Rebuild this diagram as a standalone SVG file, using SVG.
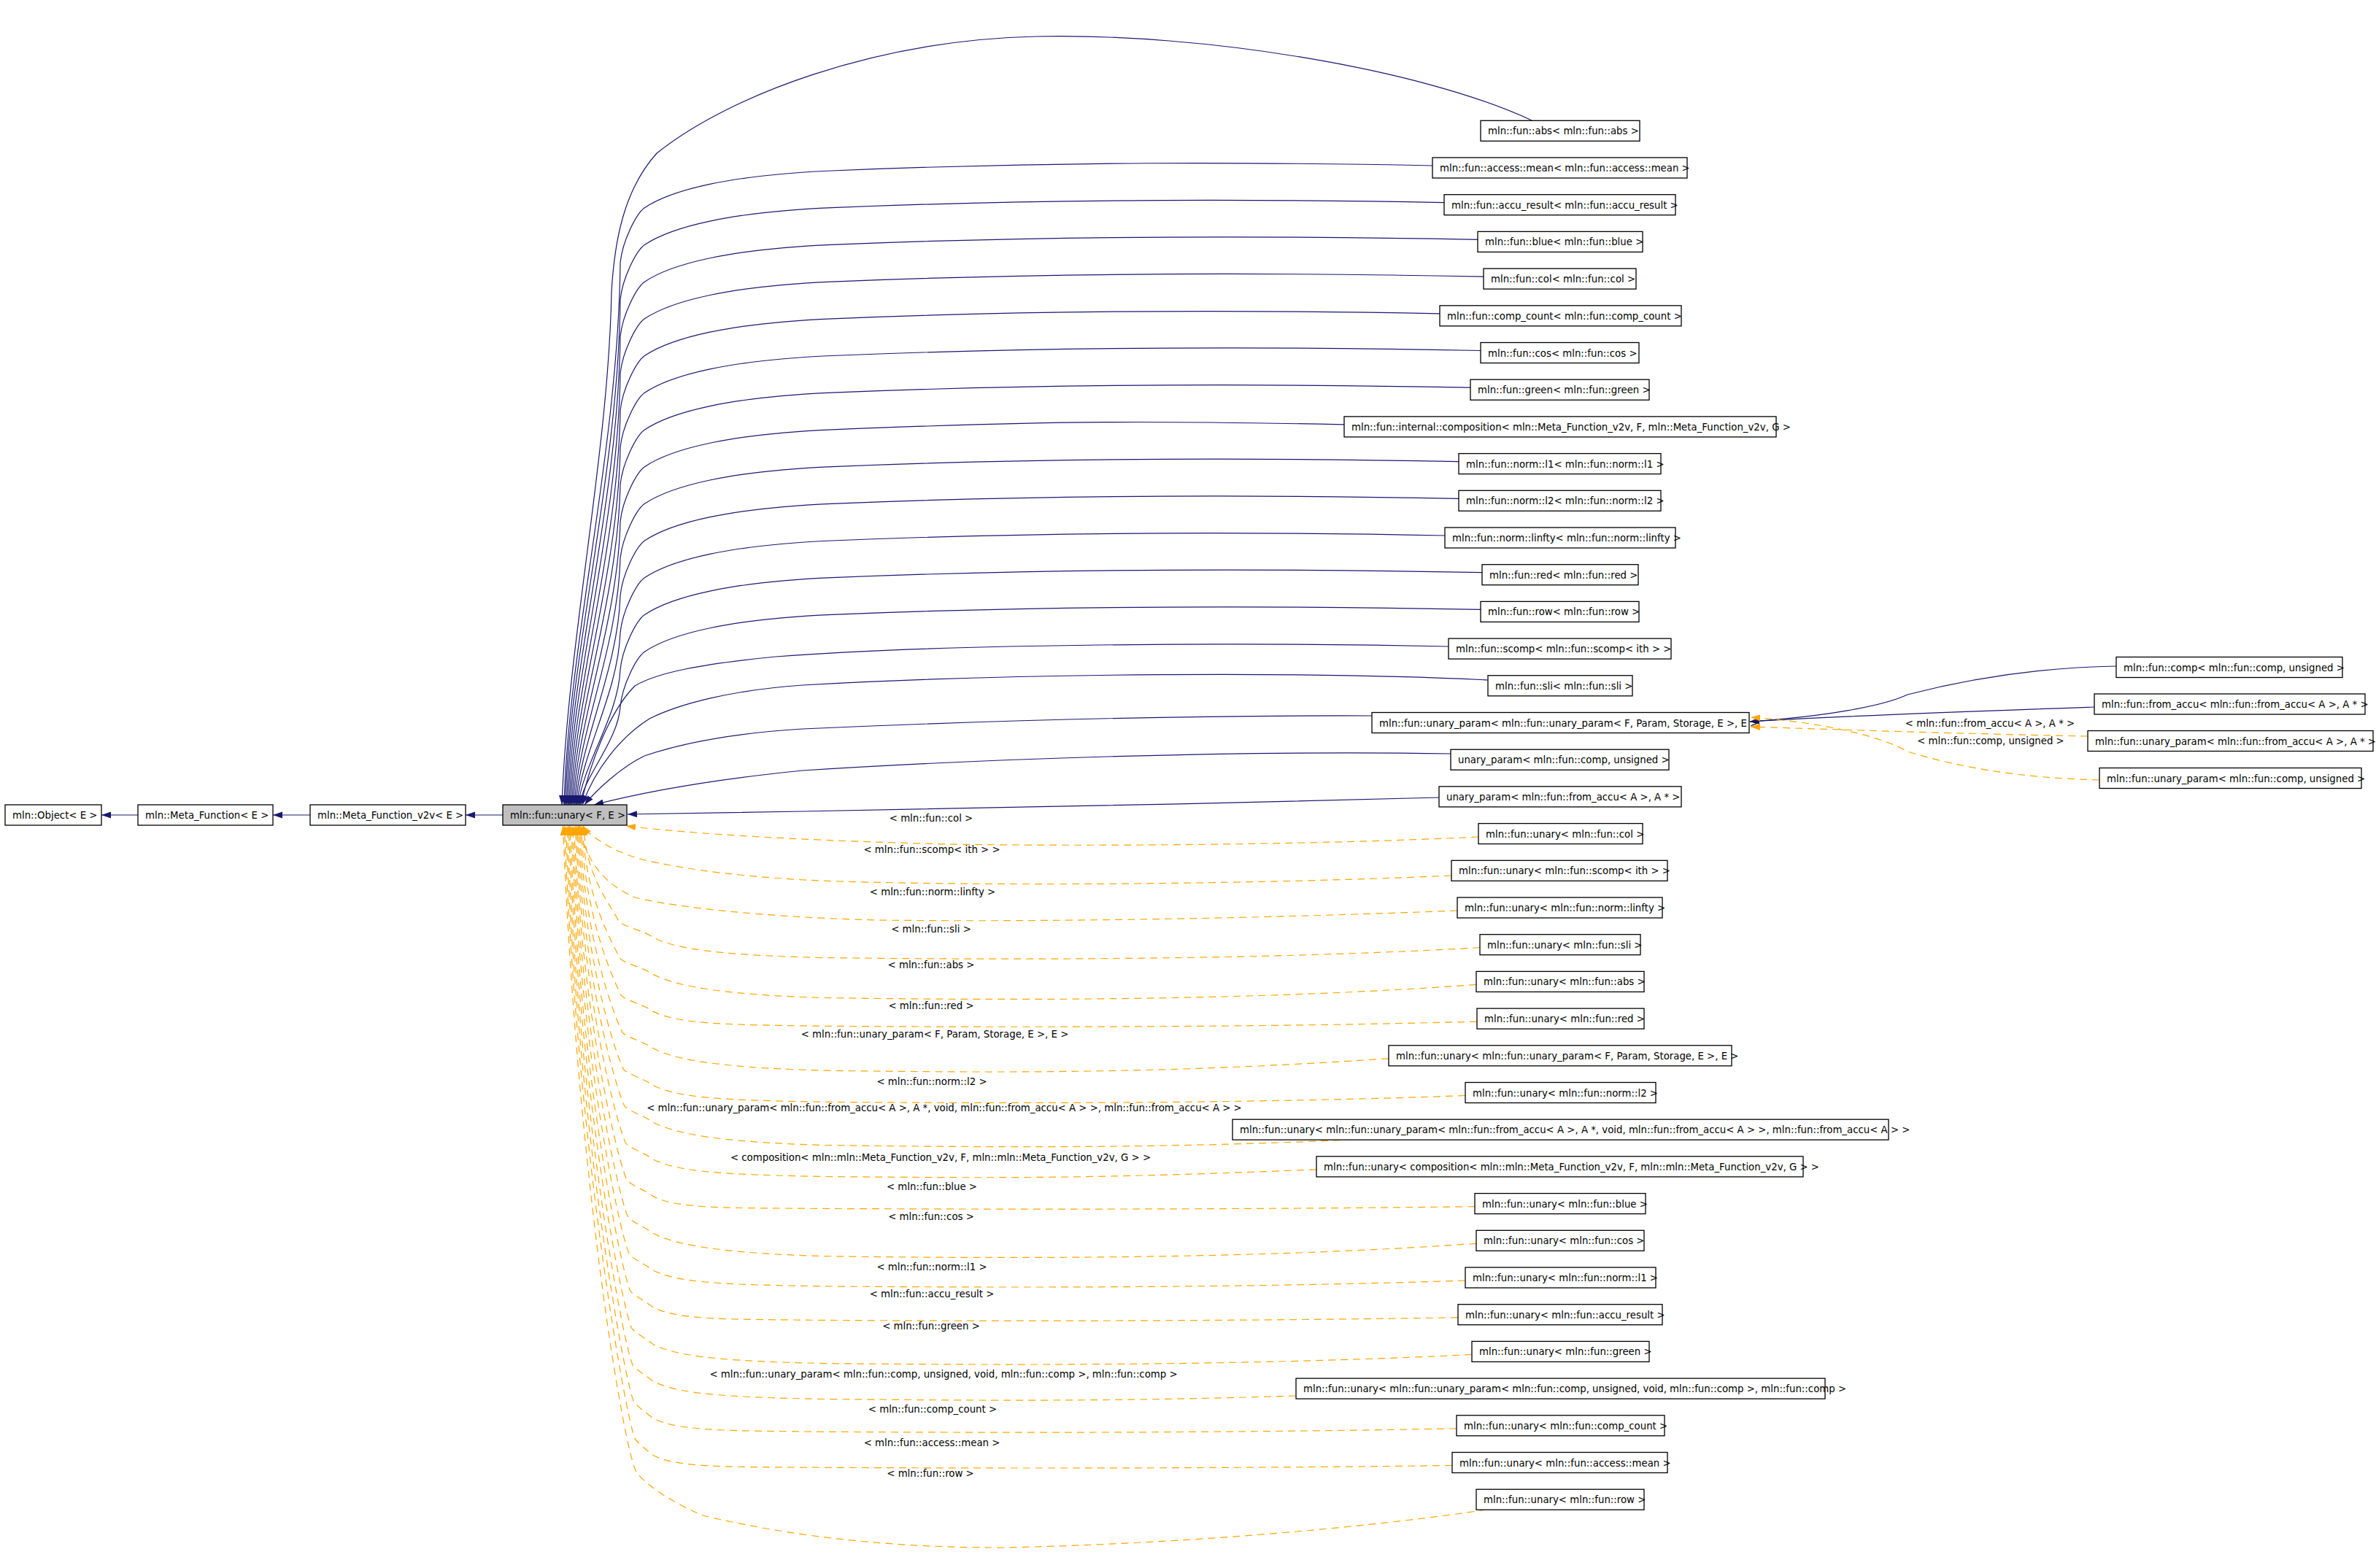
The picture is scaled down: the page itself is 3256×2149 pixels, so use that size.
<svg xmlns="http://www.w3.org/2000/svg" width="3256" height="2149" viewBox="0 0 3256 2149">
<style>
.n rect{fill:#fff;stroke:#000;stroke-width:1.3}
.n.g rect{fill:#bfbfbf}
text{font-family:"DejaVu Sans",sans-serif;font-size:13.3px;fill:#000}
.l{text-anchor:middle}
.e{fill:none;stroke:#191970;stroke-width:1.2;marker-end:url(#an)}
.t{fill:none;stroke:#ffa500;stroke-width:1.2;stroke-dasharray:10,7;marker-end:url(#ao)}
</style>
<defs>
<marker id="an" markerUnits="userSpaceOnUse" markerWidth="14" markerHeight="10" refX="13" refY="4.5" orient="auto"><path d="M0,0L13,4.5L0,9z" fill="#191970"/></marker>
<marker id="ao" markerUnits="userSpaceOnUse" markerWidth="14" markerHeight="10" refX="13" refY="4.5" orient="auto"><path d="M0,0L13,4.5L0,9z" fill="#ffa500"/></marker>
</defs>
<rect width="3256" height="2149" fill="#fff"/>
<g id="connectors">
<path class="e" d="M689,1117 L638,1117"/>
<path class="e" d="M425,1117 L374,1117"/>
<path class="e" d="M189,1117 L139,1117"/>
<path class="e" d="M2099,165 C1950,95 1650,45 1420,50 C1200,55 1000,130 900,210 C855,260 842,330 838,400 C834,620 778,880 770,1103"/>
<path class="e" d="M1963,227 C1713,222 1450,221 1140,234 C1000,240 920,260 883,285 C872,293 853,330 850,360 C847,620 779,880 773,1103"/>
<path class="e" d="M1979,277.7 C1729,272.7 1450,271.7 1140,284.7 C1000,290.7 920,310.7 883,335.7 C872,343.7 853,380.7 850,410.7 C847,653 780.6,895.3 774.6,1103"/>
<path class="e" d="M2025,328.4 C1775,323.4 1450,322.4 1140,335.4 C1000,341.4 920,361.4 883,386.4 C872,394.4 853,431.4 850,461.4 C847,686 782.4,910.5 776.4,1103"/>
<path class="e" d="M2033,379.1 C1783,374.1 1450,373.1 1140,386.1 C1000,392.1 920,412.1 883,437.1 C872,445.1 853,482.1 850,512.1 C847,718.9 784.2,925.7 778.2,1103"/>
<path class="e" d="M1973,429.8 C1723,424.8 1450,423.8 1140,436.8 C1000,442.8 920,462.8 883,487.8 C872,495.8 853,532.8 850,562.8 C847,751.9 786,940.9 780,1103"/>
<path class="e" d="M2029,480.5 C1779,475.5 1450,474.5 1140,487.5 C1000,493.5 920,513.5 883,538.5 C872,546.5 853,583.5 850,613.5 C847,784.8 787.8,956.1 781.8,1103"/>
<path class="e" d="M2015,531.2 C1765,526.2 1450,525.2 1140,538.2 C1000,544.2 920,564.2 883,589.2 C872,597.2 853,634.2 850,664.2 C847,817.8 789.6,971.4 783.6,1103"/>
<path class="e" d="M1842,581.9 C1592,576.9 1450,575.9 1140,588.9 C1000,594.9 920,614.9 883,639.9 C872,647.9 853,684.9 850,714.9 C847,850.7 791.4,986.6 785.4,1103"/>
<path class="e" d="M1999,632.6 C1749,627.6 1450,626.6 1140,639.6 C1000,645.6 920,665.6 883,690.6 C872,698.6 853,735.6 850,765.6 C847,883.7 793.2,1001.8 787.2,1103"/>
<path class="e" d="M1999,683.3 C1749,678.3 1450,677.3 1140,690.3 C1000,696.3 920,716.3 883,741.3 C872,749.3 853,786.3 850,816.3 C847,916.6 795,1017 789,1103"/>
<path class="e" d="M1980,734 C1730,729 1450,728 1140,741 C1000,747 920,767 883,792 C872,800 853,837 850,867 C847,949.6 796.8,1032.2 790.8,1103"/>
<path class="e" d="M2031,784.7 C1781,779.7 1450,778.7 1140,791.7 C1000,797.7 920,817.7 883,842.7 C872,850.7 853,887.7 850,917.7 C847,982.6 798.6,1047.4 792.6,1103"/>
<path class="e" d="M2029,835.4 C1779,830.4 1450,829.4 1140,842.4 C1000,848.4 920,868.4 883,893.4 C872,901.4 853,938.4 850,968.4 C847,1015.5 800.4,1062.6 794.4,1103"/>
<path class="e" d="M1985,886 C1700,880 1300,882 1063,900 C960,910 900,922 870,940 C845,965 815,1020 796,1103"/>
<path class="e" d="M2039,932 C1800,920 1400,922 1100,939 C1000,946 930,965 890,985 C850,1010 815,1055 798,1103"/>
<path class="e" d="M1880,981 C1600,980 1300,990 1100,999 C1000,1005 930,1020 883,1036 C850,1052 815,1085 801,1103"/>
<path class="e" d="M1988,1033 C1700,1028 1350,1040 1100,1056 C980,1068 880,1086 814,1103"/>
<path class="e" d="M1972,1093 C1700,1100 1300,1110 1100,1112 C1000,1113 920,1115 860,1116"/>
<path class="e" d="M2900,913 C2780,915 2680,935 2614,952 C2580,968 2500,982 2398,989"/>
<path class="e" d="M2870,969 C2700,975 2500,982 2398,989"/>
<path class="t" d="M2861,1009 C2700,1006 2520,1000 2399,996"/>
<path class="t" d="M2877,1069 C2760,1066 2680,1050 2614,1030 C2580,1010 2500,990 2399,983"/>
<path class="t" d="M2026,1147 C1800,1158 1500,1160 1300,1157 C1100,1152 950,1143 858,1132"/>
<path class="t" d="M1989,1200 C1700,1213 1350,1214 1150,1208 C1030,1204 940,1192 880,1178 C845,1168 815,1152 798,1132"/>
<path class="t" d="M1997,1248 C1750,1258 1450,1264 1200,1261 C1050,1257 930,1244 870,1230 C830,1212 805,1185 793,1132"/>
<path class="t" d="M2028,1298.7 C1728,1315.7 1400,1315.7 1130,1312.6 C1000,1309.4 930,1302.7 895,1284.7 C885,1276.7 854,1269.7 848,1262.7 C836,1238.7 802.7,1201.3 800,1132"/>
<path class="t" d="M2023,1349.4 C1723,1371.4 1400,1371.4 1130,1367.5 C1000,1363.6 930,1353.4 895,1335.4 C885,1327.4 855.6,1320.4 849.6,1313.4 C837.6,1289.4 801.9,1228.1 798.1,1132"/>
<path class="t" d="M2024,1400.1 C1724,1408.1 1400,1408.1 1130,1406.3 C1000,1404.5 930,1404.1 895,1386.1 C885,1378.1 857.2,1371.1 851.2,1364.1 C839.2,1340.1 801.1,1255 796.2,1132"/>
<path class="t" d="M1903,1450.8 C1603,1470.8 1400,1470.8 1130,1467.2 C1000,1463.6 930,1454.8 895,1436.8 C885,1428.8 858.8,1421.8 852.8,1414.8 C840.8,1390.8 800.2,1281.9 794.3,1132"/>
<path class="t" d="M2008,1501.5 C1708,1512.5 1400,1512.5 1130,1510.3 C1000,1508 930,1505.5 895,1487.5 C885,1479.5 860.4,1472.5 854.4,1465.5 C842.4,1441.5 799.4,1308.8 792.4,1132"/>
<path class="t" d="M1854,1562 C1600,1573.2 1400,1573.2 1130,1569.5 C1000,1565.7 930,1556.2 895,1538.2 C885,1530.2 862,1523.2 856,1516.2 C844,1492.2 798.6,1335.6 790.5,1132"/>
<path class="t" d="M1804,1602.9 C1504,1614.9 1400,1614.9 1130,1612.5 C1000,1610.1 930,1606.9 895,1588.9 C885,1580.9 863.6,1573.9 857.6,1566.9 C845.6,1542.9 797.7,1362.5 788.6,1132"/>
<path class="t" d="M2021,1653.6 C1721,1657.6 1400,1657.6 1130,1656.4 C1000,1655.2 930,1657.6 895,1639.6 C885,1631.6 865.2,1624.6 859.2,1617.6 C847.2,1593.6 796.9,1389.4 786.7,1132"/>
<path class="t" d="M2023,1704.3 C1723,1725.3 1400,1725.3 1130,1721.6 C1000,1717.8 930,1708.3 895,1690.3 C885,1682.3 866.8,1675.3 860.8,1668.3 C848.8,1644.3 796.1,1416.2 784.8,1132"/>
<path class="t" d="M2008,1755 C1708,1765 1400,1765 1130,1762.9 C1000,1760.8 930,1759 895,1741 C885,1733 868.4,1726 862.4,1719 C850.4,1695 795.2,1443.1 782.9,1132"/>
<path class="t" d="M1998,1805.7 C1698,1810.7 1400,1810.7 1130,1809.4 C1000,1808 930,1809.7 895,1791.7 C885,1783.7 870,1776.7 864,1769.7 C852,1745.7 794.4,1470 781,1132"/>
<path class="t" d="M2017,1856.4 C1717,1871.4 1400,1871.4 1130,1868.6 C1000,1865.7 930,1860.4 895,1842.4 C885,1834.4 871.6,1827.4 865.6,1820.4 C853.6,1796.4 793.6,1496.9 779.1,1132"/>
<path class="t" d="M1776,1913 C1550,1920.1 1400,1920.1 1130,1917.5 C1000,1915 930,1911.1 895,1893.1 C885,1885.1 873.2,1878.1 867.2,1871.1 C855.2,1847.1 792.7,1523.7 777.2,1132"/>
<path class="t" d="M1996,1957.8 C1696,1963.8 1400,1963.8 1130,1962.3 C1000,1960.8 930,1961.8 895,1943.8 C885,1935.8 874.8,1928.8 868.8,1921.8 C856.8,1897.8 791.9,1550.6 775.3,1132"/>
<path class="t" d="M1990,2008.5 C1690,2012.5 1400,2012.5 1130,2011.3 C1000,2010.1 930,2012.5 895,1994.5 C885,1986.5 876.4,1979.5 870.4,1972.5 C858.4,1948.5 791.1,1577.5 773.4,1132"/>
<path class="t" d="M2037,2069 C1900,2090 1650,2115 1378,2121 C1200,2122 1059,2100 963,2077 C930,2063 890,2040 873,2019 C855,1995 790,1600 771.5,1132"/>
</g>
<g id="edge-labels">
<text class="l" x="2727" y="996">&lt; mln::fun::from_accu&lt; A &gt;, A * &gt;</text>
<text class="l" x="2728" y="1020">&lt; mln::fun::comp, unsigned &gt;</text>
<text class="l" x="1276" y="1126">&lt; mln::fun::col &gt;</text>
<text class="l" x="1277" y="1169">&lt; mln::fun::scomp&lt; ith &gt; &gt;</text>
<text class="l" x="1278" y="1227">&lt; mln::fun::norm::linfty &gt;</text>
<text class="l" x="1276" y="1278">&lt; mln::fun::sli &gt;</text>
<text class="l" x="1276" y="1327">&lt; mln::fun::abs &gt;</text>
<text class="l" x="1276" y="1383">&lt; mln::fun::red &gt;</text>
<text class="l" x="1281" y="1422">&lt; mln::fun::unary_param&lt; F, Param, Storage, E &gt;, E &gt;</text>
<text class="l" x="1277" y="1487">&lt; mln::fun::norm::l2 &gt;</text>
<text class="l" x="1294" y="1523">&lt; mln::fun::unary_param&lt; mln::fun::from_accu&lt; A &gt;, A *, void, mln::fun::from_accu&lt; A &gt; &gt;, mln::fun::from_accu&lt; A &gt; &gt;</text>
<text class="l" x="1289" y="1591">&lt; composition&lt; mln::mln::Meta_Function_v2v, F, mln::mln::Meta_Function_v2v, G &gt; &gt;</text>
<text class="l" x="1277" y="1630.6">&lt; mln::fun::blue &gt;</text>
<text class="l" x="1276" y="1671.6">&lt; mln::fun::cos &gt;</text>
<text class="l" x="1277" y="1741.2">&lt; mln::fun::norm::l1 &gt;</text>
<text class="l" x="1277" y="1777.5">&lt; mln::fun::accu_result &gt;</text>
<text class="l" x="1276" y="1822.4">&lt; mln::fun::green &gt;</text>
<text class="l" x="1293" y="1888">&lt; mln::fun::unary_param&lt; mln::fun::comp, unsigned, void, mln::fun::comp &gt;, mln::fun::comp &gt;</text>
<text class="l" x="1278" y="1935.5">&lt; mln::fun::comp_count &gt;</text>
<text class="l" x="1277" y="1981.8">&lt; mln::fun::access::mean &gt;</text>
<text class="l" x="1275" y="2023.5">&lt; mln::fun::row &gt;</text>
</g>
<g id="n-object" class="n"><rect x="7" y="1103" width="132" height="28"/><text x="17" y="1122">mln::Object&lt; E &gt;</text></g>
<g id="n-meta-function" class="n"><rect x="189" y="1103" width="185" height="28"/><text x="199" y="1122">mln::Meta_Function&lt; E &gt;</text></g>
<g id="n-meta-function-v2v" class="n"><rect x="425" y="1103" width="213" height="28"/><text x="435" y="1122">mln::Meta_Function_v2v&lt; E &gt;</text></g>
<g id="n-unary" class="n g"><rect x="689" y="1103" width="170" height="28"/><text x="699" y="1122">mln::fun::unary&lt; F, E &gt;</text></g>
<g id="n-abs" class="n"><rect x="2029" y="165.3" width="218" height="28"/><text x="2039" y="184.3">mln::fun::abs&lt; mln::fun::abs &gt;</text></g>
<g id="n-access-mean" class="n"><rect x="1963" y="216" width="349" height="28"/><text x="1973" y="235">mln::fun::access::mean&lt; mln::fun::access::mean &gt;</text></g>
<g id="n-accu-result" class="n"><rect x="1979" y="266.7" width="317" height="28"/><text x="1989" y="285.7">mln::fun::accu_result&lt; mln::fun::accu_result &gt;</text></g>
<g id="n-blue" class="n"><rect x="2025" y="317.4" width="226" height="28"/><text x="2035" y="336.4">mln::fun::blue&lt; mln::fun::blue &gt;</text></g>
<g id="n-col" class="n"><rect x="2033" y="368.1" width="209" height="28"/><text x="2043" y="387.1">mln::fun::col&lt; mln::fun::col &gt;</text></g>
<g id="n-comp-count" class="n"><rect x="1973" y="418.8" width="331" height="28"/><text x="1983" y="437.8">mln::fun::comp_count&lt; mln::fun::comp_count &gt;</text></g>
<g id="n-cos" class="n"><rect x="2029" y="469.5" width="217" height="28"/><text x="2039" y="488.5">mln::fun::cos&lt; mln::fun::cos &gt;</text></g>
<g id="n-green" class="n"><rect x="2015" y="520.2" width="245" height="28"/><text x="2025" y="539.2">mln::fun::green&lt; mln::fun::green &gt;</text></g>
<g id="n-composition" class="n"><rect x="1842" y="570.9" width="592" height="28"/><text x="1852" y="589.9">mln::fun::internal::composition&lt; mln::Meta_Function_v2v, F, mln::Meta_Function_v2v, G &gt;</text></g>
<g id="n-l1" class="n"><rect x="1999" y="621.6" width="277" height="28"/><text x="2009" y="640.6">mln::fun::norm::l1&lt; mln::fun::norm::l1 &gt;</text></g>
<g id="n-l2" class="n"><rect x="1999" y="672.3" width="277" height="28"/><text x="2009" y="691.3">mln::fun::norm::l2&lt; mln::fun::norm::l2 &gt;</text></g>
<g id="n-linfty" class="n"><rect x="1980" y="723" width="316" height="28"/><text x="1990" y="742">mln::fun::norm::linfty&lt; mln::fun::norm::linfty &gt;</text></g>
<g id="n-red" class="n"><rect x="2031" y="773.7" width="214" height="28"/><text x="2041" y="792.7">mln::fun::red&lt; mln::fun::red &gt;</text></g>
<g id="n-row" class="n"><rect x="2029" y="824.4" width="217" height="28"/><text x="2039" y="843.4">mln::fun::row&lt; mln::fun::row &gt;</text></g>
<g id="n-scomp" class="n"><rect x="1985" y="875.1" width="305" height="28"/><text x="1995" y="894.1">mln::fun::scomp&lt; mln::fun::scomp&lt; ith &gt; &gt;</text></g>
<g id="n-sli" class="n"><rect x="2039" y="925.8" width="198" height="28"/><text x="2049" y="944.8">mln::fun::sli&lt; mln::fun::sli &gt;</text></g>
<g id="n-unary-param" class="n"><rect x="1880" y="976.5" width="517" height="28"/><text x="1890" y="995.5">mln::fun::unary_param&lt; mln::fun::unary_param&lt; F, Param, Storage, E &gt;, E &gt;</text></g>
<g id="n-up-comp" class="n"><rect x="1988" y="1027.2" width="299" height="28"/><text x="1998" y="1046.2">unary_param&lt; mln::fun::comp, unsigned &gt;</text></g>
<g id="n-up-from-accu" class="n"><rect x="1972" y="1077.9" width="332" height="28"/><text x="1982" y="1096.9">unary_param&lt; mln::fun::from_accu&lt; A &gt;, A * &gt;</text></g>
<g id="n-comp" class="n"><rect x="2900" y="900.5" width="310" height="28"/><text x="2910" y="919.5">mln::fun::comp&lt; mln::fun::comp, unsigned &gt;</text></g>
<g id="n-from-accu" class="n"><rect x="2870" y="951" width="371" height="28"/><text x="2880" y="970">mln::fun::from_accu&lt; mln::fun::from_accu&lt; A &gt;, A * &gt;</text></g>
<g id="n-fup-from-accu" class="n"><rect x="2861" y="1001.5" width="391" height="28"/><text x="2871" y="1020.5">mln::fun::unary_param&lt; mln::fun::from_accu&lt; A &gt;, A * &gt;</text></g>
<g id="n-fup-comp" class="n"><rect x="2877" y="1052.5" width="359" height="28"/><text x="2887" y="1071.5">mln::fun::unary_param&lt; mln::fun::comp, unsigned &gt;</text></g>
<g id="u-col" class="n"><rect x="2026" y="1128.6" width="225" height="28"/><text x="2036" y="1147.6">mln::fun::unary&lt; mln::fun::col &gt;</text></g>
<g id="u-scomp" class="n"><rect x="1989" y="1179.3" width="296" height="28"/><text x="1999" y="1198.3">mln::fun::unary&lt; mln::fun::scomp&lt; ith &gt; &gt;</text></g>
<g id="u-linfty" class="n"><rect x="1997" y="1230" width="281" height="28"/><text x="2007" y="1249">mln::fun::unary&lt; mln::fun::norm::linfty &gt;</text></g>
<g id="u-sli" class="n"><rect x="2028" y="1280.7" width="220" height="28"/><text x="2038" y="1299.7">mln::fun::unary&lt; mln::fun::sli &gt;</text></g>
<g id="u-abs" class="n"><rect x="2023" y="1331.4" width="230" height="28"/><text x="2033" y="1350.4">mln::fun::unary&lt; mln::fun::abs &gt;</text></g>
<g id="u-red" class="n"><rect x="2024" y="1382.1" width="229" height="28"/><text x="2034" y="1401.1">mln::fun::unary&lt; mln::fun::red &gt;</text></g>
<g id="u-unary-param" class="n"><rect x="1903" y="1432.8" width="470" height="28"/><text x="1913" y="1451.8">mln::fun::unary&lt; mln::fun::unary_param&lt; F, Param, Storage, E &gt;, E &gt;</text></g>
<g id="u-l2" class="n"><rect x="2008" y="1483.5" width="261" height="28"/><text x="2018" y="1502.5">mln::fun::unary&lt; mln::fun::norm::l2 &gt;</text></g>
<g id="u-up-from-accu" class="n"><rect x="1689" y="1534.2" width="899" height="28"/><text x="1699" y="1553.2">mln::fun::unary&lt; mln::fun::unary_param&lt; mln::fun::from_accu&lt; A &gt;, A *, void, mln::fun::from_accu&lt; A &gt; &gt;, mln::fun::from_accu&lt; A &gt; &gt;</text></g>
<g id="u-composition" class="n"><rect x="1804" y="1584.9" width="667" height="28"/><text x="1814" y="1603.9">mln::fun::unary&lt; composition&lt; mln::mln::Meta_Function_v2v, F, mln::mln::Meta_Function_v2v, G &gt; &gt;</text></g>
<g id="u-blue" class="n"><rect x="2021" y="1635.6" width="234" height="28"/><text x="2031" y="1654.6">mln::fun::unary&lt; mln::fun::blue &gt;</text></g>
<g id="u-cos" class="n"><rect x="2023" y="1686.3" width="230" height="28"/><text x="2033" y="1705.3">mln::fun::unary&lt; mln::fun::cos &gt;</text></g>
<g id="u-l1" class="n"><rect x="2008" y="1737" width="261" height="28"/><text x="2018" y="1756">mln::fun::unary&lt; mln::fun::norm::l1 &gt;</text></g>
<g id="u-accu-result" class="n"><rect x="1998" y="1787.7" width="280" height="28"/><text x="2008" y="1806.7">mln::fun::unary&lt; mln::fun::accu_result &gt;</text></g>
<g id="u-green" class="n"><rect x="2017" y="1838.4" width="243" height="28"/><text x="2027" y="1857.4">mln::fun::unary&lt; mln::fun::green &gt;</text></g>
<g id="u-up-comp" class="n"><rect x="1776" y="1889.1" width="725" height="28"/><text x="1786" y="1908.1">mln::fun::unary&lt; mln::fun::unary_param&lt; mln::fun::comp, unsigned, void, mln::fun::comp &gt;, mln::fun::comp &gt;</text></g>
<g id="u-comp-count" class="n"><rect x="1996" y="1939.8" width="285" height="28"/><text x="2006" y="1958.8">mln::fun::unary&lt; mln::fun::comp_count &gt;</text></g>
<g id="u-access-mean" class="n"><rect x="1990" y="1990.5" width="295" height="28"/><text x="2000" y="2009.5">mln::fun::unary&lt; mln::fun::access::mean &gt;</text></g>
<g id="u-row" class="n"><rect x="2023" y="2041.2" width="230" height="28"/><text x="2033" y="2060.2">mln::fun::unary&lt; mln::fun::row &gt;</text></g>
</svg>
